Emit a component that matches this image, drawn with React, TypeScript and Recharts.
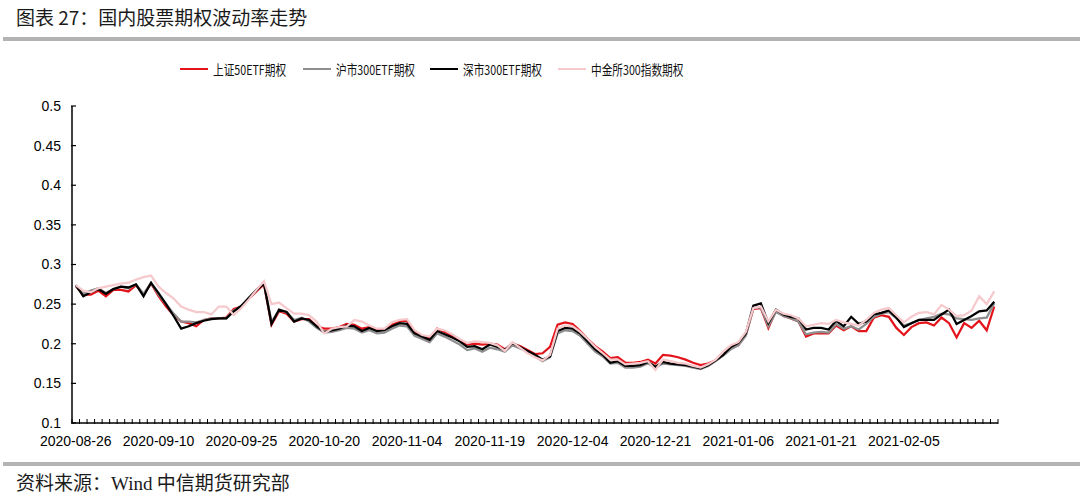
import { LineChart, Line, XAxis, YAxis, ReferenceLine } from "recharts"

const dates = [
  "2020-08-26", "2020-08-27", "2020-08-28", "2020-08-31",
  "2020-09-01", "2020-09-02", "2020-09-03", "2020-09-04", "2020-09-07", "2020-09-08", "2020-09-09", "2020-09-10",
  "2020-09-11", "2020-09-14", "2020-09-15", "2020-09-16", "2020-09-17", "2020-09-18", "2020-09-21", "2020-09-22",
  "2020-09-23", "2020-09-24", "2020-09-25", "2020-09-28", "2020-09-29", "2020-09-30",
  "2020-10-09", "2020-10-12", "2020-10-13", "2020-10-14", "2020-10-15", "2020-10-16", "2020-10-19", "2020-10-20",
  "2020-10-21", "2020-10-22", "2020-10-23", "2020-10-26", "2020-10-27", "2020-10-28", "2020-10-29", "2020-10-30",
  "2020-11-02", "2020-11-03", "2020-11-04", "2020-11-05", "2020-11-06", "2020-11-09", "2020-11-10", "2020-11-11",
  "2020-11-12", "2020-11-13", "2020-11-16", "2020-11-17", "2020-11-18", "2020-11-19", "2020-11-20", "2020-11-23",
  "2020-11-24", "2020-11-25", "2020-11-26", "2020-11-27", "2020-11-30",
  "2020-12-01", "2020-12-02", "2020-12-03", "2020-12-04", "2020-12-07", "2020-12-08", "2020-12-09", "2020-12-10",
  "2020-12-11", "2020-12-14", "2020-12-15", "2020-12-16", "2020-12-17", "2020-12-18", "2020-12-21", "2020-12-22",
  "2020-12-23", "2020-12-24", "2020-12-25", "2020-12-28", "2020-12-29", "2020-12-30", "2020-12-31",
  "2021-01-04", "2021-01-05", "2021-01-06", "2021-01-07", "2021-01-08", "2021-01-11", "2021-01-12", "2021-01-13",
  "2021-01-14", "2021-01-15", "2021-01-18", "2021-01-19", "2021-01-20", "2021-01-21", "2021-01-22", "2021-01-25",
  "2021-01-26", "2021-01-27", "2021-01-28", "2021-01-29",
  "2021-02-01", "2021-02-02", "2021-02-03", "2021-02-04", "2021-02-05", "2021-02-08", "2021-02-09", "2021-02-10",
  "2021-02-18", "2021-02-19", "2021-02-22", "2021-02-23", "2021-02-24", "2021-02-25", "2021-02-26",
  "2021-03-01", "2021-03-02",
]

const tickDates = [
  "2020-08-26", "2020-09-10", "2020-09-25", "2020-10-20", "2020-11-04", "2020-11-19",
  "2020-12-04", "2020-12-21", "2021-01-06", "2021-01-21", "2021-02-05",
]

const yTicks = [0.1, 0.15, 0.2, 0.25, 0.3, 0.35, 0.4, 0.45, 0.5]

// 上证50ETF期权
const sz50 = [
  0.273, 0.262, 0.262, 0.267, 0.260, 0.268, 0.268, 0.266, 0.274, 0.262,
  0.276, 0.260, 0.247, 0.236, 0.228, 0.226, 0.222, 0.230, 0.232, 0.232,
  0.233, 0.244, 0.247, 0.257, 0.266, 0.275, 0.224, 0.241, 0.238, 0.228,
  0.231, 0.231, 0.222, 0.219, 0.219, 0.221, 0.225, 0.224, 0.219, 0.221,
  0.218, 0.218, 0.224, 0.229, 0.229, 0.215, 0.210, 0.207, 0.219, 0.215,
  0.210, 0.204, 0.199, 0.200, 0.199, 0.200, 0.199, 0.193, 0.200, 0.197,
  0.192, 0.187, 0.188, 0.196, 0.224, 0.227, 0.225, 0.216, 0.206, 0.197,
  0.190, 0.182, 0.183, 0.176, 0.176, 0.177, 0.180, 0.175, 0.186, 0.185,
  0.183, 0.180, 0.176, 0.173, 0.175, 0.179, 0.186, 0.195, 0.198, 0.211,
  0.244, 0.245, 0.220, 0.242, 0.235, 0.232, 0.228, 0.209, 0.213, 0.213,
  0.213, 0.223, 0.217, 0.222, 0.216, 0.216, 0.233, 0.236, 0.234, 0.220,
  0.211, 0.221, 0.226, 0.227, 0.223, 0.233, 0.226, 0.208, 0.226, 0.220,
  0.229, 0.217, 0.247,
]

// 沪市300ETF期权
const sh300 = [
  0.273, 0.263, 0.267, 0.270, 0.264, 0.269, 0.272, 0.270, 0.275, 0.263,
  0.277, 0.262, 0.250, 0.238, 0.228, 0.228, 0.227, 0.230, 0.232, 0.232,
  0.232, 0.242, 0.247, 0.258, 0.267, 0.277, 0.228, 0.242, 0.240, 0.230,
  0.233, 0.228, 0.220, 0.214, 0.215, 0.217, 0.220, 0.219, 0.214, 0.217,
  0.213, 0.214, 0.219, 0.223, 0.222, 0.210, 0.206, 0.202, 0.213, 0.209,
  0.204, 0.199, 0.192, 0.194, 0.190, 0.195, 0.193, 0.190, 0.198, 0.194,
  0.190, 0.184, 0.178, 0.183, 0.213, 0.217, 0.216, 0.210, 0.200, 0.190,
  0.184, 0.175, 0.176, 0.170, 0.170, 0.171, 0.175, 0.170, 0.175, 0.174,
  0.173, 0.172, 0.170, 0.168, 0.172, 0.178, 0.185, 0.193, 0.198, 0.210,
  0.245, 0.246, 0.222, 0.240, 0.235, 0.232, 0.228, 0.212, 0.214, 0.215,
  0.214, 0.225, 0.219, 0.222, 0.218, 0.225, 0.234, 0.238, 0.240, 0.232,
  0.223, 0.226, 0.230, 0.232, 0.234, 0.238, 0.237, 0.232, 0.231, 0.230,
  0.232, 0.233, 0.251,
]

// 深市300ETF期权
const sz300 = [
  0.274, 0.260, 0.265, 0.269, 0.263, 0.269, 0.272, 0.271, 0.275, 0.260,
  0.277, 0.264, 0.250, 0.235, 0.219, 0.222, 0.226, 0.229, 0.231, 0.232,
  0.232, 0.241, 0.248, 0.258, 0.268, 0.276, 0.225, 0.243, 0.240, 0.228,
  0.232, 0.230, 0.222, 0.215, 0.217, 0.219, 0.223, 0.222, 0.216, 0.220,
  0.216, 0.217, 0.222, 0.226, 0.225, 0.213, 0.209, 0.205, 0.216, 0.212,
  0.208, 0.203, 0.196, 0.197, 0.193, 0.199, 0.196, 0.192, 0.201, 0.196,
  0.191, 0.186, 0.180, 0.184, 0.216, 0.220, 0.219, 0.213, 0.203, 0.193,
  0.186, 0.176, 0.178, 0.172, 0.172, 0.173, 0.177, 0.171, 0.177, 0.175,
  0.174, 0.173, 0.171, 0.169, 0.173, 0.179, 0.186, 0.196, 0.201, 0.213,
  0.248, 0.251, 0.226, 0.243, 0.237, 0.234, 0.232, 0.218, 0.220, 0.220,
  0.218, 0.229, 0.222, 0.234, 0.225, 0.228, 0.237, 0.239, 0.242, 0.233,
  0.221, 0.226, 0.230, 0.230, 0.230, 0.237, 0.243, 0.225, 0.230, 0.235,
  0.241, 0.242, 0.253,
]

// 中金所300指数期权
const cffex300 = [
  0.274, 0.267, 0.265, 0.270, 0.272, 0.274, 0.276, 0.277, 0.281, 0.284,
  0.286, 0.272, 0.264, 0.257, 0.247, 0.243, 0.240, 0.240, 0.237, 0.247,
  0.247, 0.236, 0.245, 0.256, 0.268, 0.279, 0.250, 0.252, 0.245, 0.238,
  0.238, 0.236, 0.228, 0.213, 0.219, 0.221, 0.222, 0.230, 0.228, 0.223,
  0.219, 0.219, 0.227, 0.230, 0.231, 0.217, 0.211, 0.209, 0.219, 0.217,
  0.212, 0.206, 0.201, 0.203, 0.202, 0.201, 0.198, 0.191, 0.202, 0.195,
  0.188, 0.183, 0.179, 0.186, 0.219, 0.223, 0.222, 0.215, 0.206, 0.196,
  0.188, 0.180, 0.180, 0.174, 0.175, 0.176, 0.178, 0.167, 0.180, 0.178,
  0.176, 0.175, 0.172, 0.170, 0.174, 0.180, 0.190, 0.198, 0.202, 0.215,
  0.245, 0.247, 0.228, 0.243, 0.238, 0.236, 0.232, 0.222, 0.224, 0.226,
  0.225, 0.230, 0.227, 0.225, 0.223, 0.230, 0.239, 0.243, 0.245, 0.236,
  0.227, 0.234, 0.239, 0.240, 0.237, 0.249, 0.243, 0.235, 0.236, 0.242,
  0.260, 0.250, 0.266,
]

const series = [
  { key: "sz50", name: "上证50ETF期权", color: "#e3141b", left: 180 },
  { key: "sh300", name: "沪市300ETF期权", color: "#8f8f8f", left: 303 },
  { key: "sz300", name: "深市300ETF期权", color: "#000000", left: 430 },
  { key: "cffex300", name: "中金所300指数期权", color: "#f6c9cc", left: 558 },
]

const data = dates.map((date, i) => ({
  date,
  i,
  sz50: sz50[i],
  sh300: sh300[i],
  sz300: sz300[i],
  cffex300: cffex300[i],
}))

// category boundaries for the small tick marks on the x axis
const boundaryTicks = Array.from({ length: dates.length + 1 }, (_, k) => k - 0.5)

const W = 1080
const H = 494
const plotLeft = 72
const plotRight = 998
const plotTop = 106
const plotBottom = 423
const halfBand = (plotRight - plotLeft) / dates.length / 2

const cjk = '"Noto Sans CJK SC", "Noto Sans", sans-serif'
const axisFont = '"Liberation Sans", Arial, sans-serif'

// tick marks drawn as paths, pointing into the plot
const XTickMark = (props: any) => (
  <path d={`M${props.x},${props.y}V${props.y - 5}`} stroke="#000" strokeWidth={1} fill="none" />
)
const YTickMark = (props: any) => (
  <path d={`M${props.x},${props.y}H${props.x + 5}`} stroke="#000" strokeWidth={1.2} fill="none" />
)
const AxisPath = (props: any) => (
  <path d={`M${props.x1},${props.y1}L${props.x2},${props.y2}`} stroke="#000" strokeWidth={1.5} fill="none" />
)

export default function App() {
  return (
    <div style={{ position: "absolute", left: 0, top: 0, width: W, height: H, background: "#fff", overflow: "hidden" }}>
      <div style={{ position: "absolute", left: 16, top: 4, fontFamily: cjk, fontSize: 19, color: "#1a1a1a", lineHeight: "26px", whiteSpace: "nowrap" }}>
        图表 27：国内股票期权波动率走势
      </div>
      <div style={{ position: "absolute", left: 3, right: 0, top: 37, height: 4, background: "#b3b3b3" }} />

      {series.map((s) => (
        <div
          key={s.key}
          style={{ position: "absolute", left: s.left, top: 60, height: 18, display: "flex", alignItems: "center", whiteSpace: "nowrap" }}
        >
          <div style={{ width: 28, height: 2.5, background: s.color }} />
          <span
            style={{
              marginLeft: 5,
              fontFamily: cjk,
              fontSize: 13.5,
              color: "#111",
              display: "inline-block",
              transform: "scaleX(0.79)",
              transformOrigin: "left center",
            }}
          >
            {s.name}
          </span>
        </div>
      ))}

      <LineChart
        width={W}
        height={H}
        data={data}
        margin={{ top: plotTop, right: W - plotRight, bottom: H - plotBottom - 2, left: plotLeft - 2 }}
        style={{ position: "absolute", left: 0, top: 0 }}
      >
        <XAxis
          xAxisId="minor"
          dataKey="i"
          type="number"
          domain={[-0.5, dates.length - 0.5]}
          allowDataOverflow
          ticks={boundaryTicks}
          interval={0}
          height={1}
          axisLine={false}
          tickLine={false}
          tickSize={0}
          tickMargin={0}
          tick={XTickMark}
        />
        <XAxis
          dataKey="date"
          type="category"
          scale="point"
          padding={{ left: halfBand, right: halfBand }}
          ticks={tickDates}
          interval={0}
          height={1}
          tickLine={false}
          axisLine={false}
          tickSize={0}
          tickMargin={13}
          tick={{ fontSize: 14, fill: "#000", fontFamily: axisFont }}
        />
        <YAxis
          yAxisId="minor"
          type="number"
          domain={[0.1, 0.5]}
          allowDataOverflow
          ticks={yTicks}
          interval={0}
          width={1}
          axisLine={false}
          tickLine={false}
          tickSize={0}
          tickMargin={0}
          tick={YTickMark}
        />
        <YAxis
          type="number"
          domain={[0.1, 0.5]}
          ticks={yTicks}
          interval={0}
          width={1}
          tickLine={false}
          axisLine={false}
          tickSize={0}
          tickMargin={11}
          tick={{ fontSize: 14, fill: "#000", fontFamily: axisFont }}
          tickFormatter={(v: number) => String(v)}
        />
        {series.map((s) => (
          <Line
            key={s.key}
            type="linear"
            dataKey={s.key}
            name={s.name}
            stroke={s.color}
            strokeWidth={2.25}
            dot={false}
            activeDot={false}
            isAnimationActive={false}
          />
        ))}
        <ReferenceLine xAxisId="minor" y={0.1} shape={AxisPath} />
        <ReferenceLine xAxisId="minor" x={-0.5} shape={AxisPath} />
      </LineChart>

      <div style={{ position: "absolute", left: 3, right: 0, top: 462, height: 4, background: "#b3b3b3" }} />
      <div style={{ position: "absolute", left: 16, top: 469, fontFamily: cjk, fontSize: 19, color: "#1a1a1a", lineHeight: "26px", whiteSpace: "nowrap" }}>
        资料来源：<span style={{ fontFamily: '"Liberation Serif", serif' }}>Wind</span> 中信期货研究部
      </div>
    </div>
  )
}
